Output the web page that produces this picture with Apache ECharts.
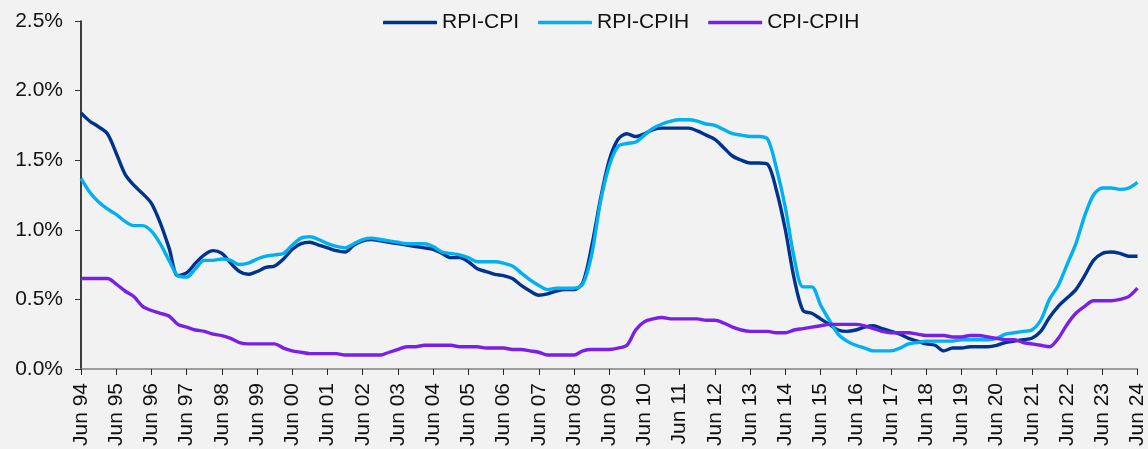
<!DOCTYPE html>
<html>
<head>
<meta charset="utf-8">
<script src="https://cdn.jsdelivr.net/npm/echarts@6/dist/echarts.min.js"></script>
<style>
html,body{margin:0;padding:0;background:#F2F2F2;}
#chart{width:1148px;height:449px;}
</style>
</head>
<body>
<div id="chart"></div>
<script>
// Quarterly categories Jun 94 .. Jun 24
const months = ['Jun', 'Sep', 'Dec', 'Mar'];
const categories = [];
for (let y = 1994; y <= 2024; y++) {
  for (let q = 0; q < 4; q++) {
    if (y === 2024 && q > 0) break;
    const yr = (q === 3) ? y + 1 : y;
    categories.push(months[q] + ' ' + String(yr % 100).padStart(2, '0'));
  }
}

const rpiCpi = [
  1.84, 1.78, 1.74, 1.69,
  1.55, 1.40, 1.32, 1.26,
  1.19, 1.05, 0.87, 0.67,
  0.69, 0.76, 0.82, 0.85,
  0.83, 0.76, 0.70, 0.68,
  0.70, 0.73, 0.74, 0.79,
  0.86, 0.90, 0.91, 0.89,
  0.87, 0.85, 0.84, 0.89,
  0.92, 0.93, 0.92, 0.91,
  0.90, 0.89, 0.88, 0.87,
  0.86, 0.83, 0.80, 0.80,
  0.77, 0.72, 0.70, 0.68,
  0.67, 0.65, 0.60, 0.56,
  0.53, 0.54, 0.56, 0.57,
  0.57, 0.62, 0.88, 1.22,
  1.50, 1.65, 1.69, 1.67,
  1.69, 1.72, 1.73, 1.73,
  1.73, 1.73, 1.71, 1.68,
  1.65, 1.59, 1.53, 1.50,
  1.48, 1.48, 1.47, 1.28,
  1.00, 0.65, 0.42, 0.40,
  0.36, 0.32, 0.28, 0.27,
  0.28, 0.30, 0.31, 0.29,
  0.27, 0.25, 0.22, 0.20,
  0.18, 0.17, 0.13, 0.15,
  0.15, 0.16, 0.16, 0.16,
  0.17, 0.19, 0.20, 0.21,
  0.22, 0.27, 0.37, 0.45,
  0.51, 0.57, 0.67, 0.78,
  0.83, 0.84, 0.83, 0.81,
  0.81
];

const rpiCpih = [
  1.37, 1.27, 1.20, 1.15,
  1.11, 1.06, 1.03, 1.03,
  0.99, 0.90, 0.78, 0.67,
  0.66, 0.72, 0.78, 0.78,
  0.79, 0.78, 0.75, 0.76,
  0.79, 0.81, 0.82, 0.83,
  0.89, 0.94, 0.95, 0.93,
  0.90, 0.88, 0.87, 0.90,
  0.93, 0.94, 0.93, 0.92,
  0.91, 0.90, 0.90, 0.90,
  0.88, 0.84, 0.83, 0.82,
  0.80, 0.77, 0.77, 0.77,
  0.76, 0.74, 0.69, 0.64,
  0.60, 0.57, 0.58, 0.58,
  0.58, 0.61, 0.82, 1.20,
  1.46, 1.60, 1.62, 1.63,
  1.68, 1.73, 1.76, 1.78,
  1.79, 1.79, 1.78, 1.76,
  1.75, 1.72, 1.69, 1.68,
  1.67, 1.67, 1.65, 1.44,
  1.16, 0.80, 0.59, 0.59,
  0.46, 0.35, 0.25, 0.20,
  0.17, 0.15, 0.13, 0.13,
  0.13, 0.15, 0.18, 0.19,
  0.20, 0.20, 0.20, 0.20,
  0.21, 0.21, 0.21, 0.21,
  0.22, 0.25, 0.26, 0.27,
  0.28, 0.35, 0.50, 0.60,
  0.75, 0.90, 1.10, 1.25,
  1.30, 1.30, 1.29, 1.30,
  1.34
];

const cpiCpih = [
  0.65, 0.65, 0.65, 0.65,
  0.61, 0.56, 0.52, 0.45,
  0.42, 0.40, 0.38, 0.32,
  0.30, 0.28, 0.27, 0.25,
  0.24, 0.22, 0.19, 0.18,
  0.18, 0.18, 0.18, 0.15,
  0.13, 0.12, 0.11, 0.11,
  0.11, 0.11, 0.10, 0.10,
  0.10, 0.10, 0.10, 0.12,
  0.14, 0.16, 0.16, 0.17,
  0.17, 0.17, 0.17, 0.16,
  0.16, 0.16, 0.15, 0.15,
  0.15, 0.14, 0.14, 0.13,
  0.12, 0.10, 0.10, 0.10,
  0.10, 0.13, 0.14, 0.14,
  0.14, 0.15, 0.17, 0.28,
  0.34, 0.36, 0.37, 0.36,
  0.36, 0.36, 0.36, 0.35,
  0.35, 0.33, 0.30, 0.28,
  0.27, 0.27, 0.27, 0.26,
  0.26, 0.28, 0.29, 0.30,
  0.31, 0.32, 0.32, 0.32,
  0.32, 0.31, 0.29, 0.27,
  0.26, 0.26, 0.26, 0.25,
  0.24, 0.24, 0.24, 0.23,
  0.23, 0.24, 0.24, 0.23,
  0.22, 0.21, 0.21, 0.19,
  0.18, 0.17, 0.16, 0.22,
  0.32, 0.40, 0.45, 0.49,
  0.49, 0.49, 0.50, 0.52,
  0.58
];

const yTicks = [0, 0.5, 1.0, 1.5, 2.0, 2.5];

const FONT = 'Liberation Sans, Arial, sans-serif';
const chart = echarts.init(document.getElementById('chart'), null, {renderer: 'canvas'});

function mkSeries(name, data, color) {
  return {
    name: name,
    type: 'line',
    data: data,
    symbol: 'none',
    smooth: 0.3,
    lineStyle: {width: 3.4, color: color},
    itemStyle: {color: color},
    emphasis: {disabled: true}
  };
}

chart.setOption({
  backgroundColor: '#F2F2F2',
  animation: false,
  textStyle: {fontFamily: FONT},
  grid: {left: 81, right: 8, top: 21, bottom: 76, containLabel: false},
  legend: {
    left: 383,
    top: 12,
    padding: 0,
    icon: 'roundRect',
    itemWidth: 54,
    itemHeight: 3.5,
    itemGap: 19,
    textStyle: {fontSize: 21, color: '#111', fontFamily: FONT},
    data: ['RPI-CPI', 'RPI-CPIH', 'CPI-CPIH']
  },
  xAxis: {
    type: 'category',
    data: categories,
    boundaryGap: false,
    axisLine: {lineStyle: {color: '#808080', width: 1.5}},
    axisTick: {show: true, interval: 3, length: 6, lineStyle: {color: '#222'}},
    axisLabel: {
      interval: 3,
      rotate: 90,
      margin: 14,
      fontSize: 21,
      color: '#111',
      fontFamily: FONT
    },
    splitLine: {show: false}
  },
  yAxis: {
    type: 'value',
    min: yTicks[0],
    max: yTicks[yTicks.length - 1],
    interval: 0.5,
    axisLine: {show: true, lineStyle: {color: '#000', width: 1.5}},
    axisTick: {show: true, length: 6, lineStyle: {color: '#333'}},
    axisLabel: {
      margin: 18,
      fontSize: 21,
      color: '#111',
      fontFamily: FONT,
      formatter: v => v.toFixed(1) + '%'
    },
    splitLine: {show: false}
  },
  series: [
    mkSeries('RPI-CPI', rpiCpi, '#00338D'),
    mkSeries('RPI-CPIH', rpiCpih, '#00B0F0'),
    mkSeries('CPI-CPIH', cpiCpih, '#7A1FE6')
  ]
});
</script>
</body>
</html>
